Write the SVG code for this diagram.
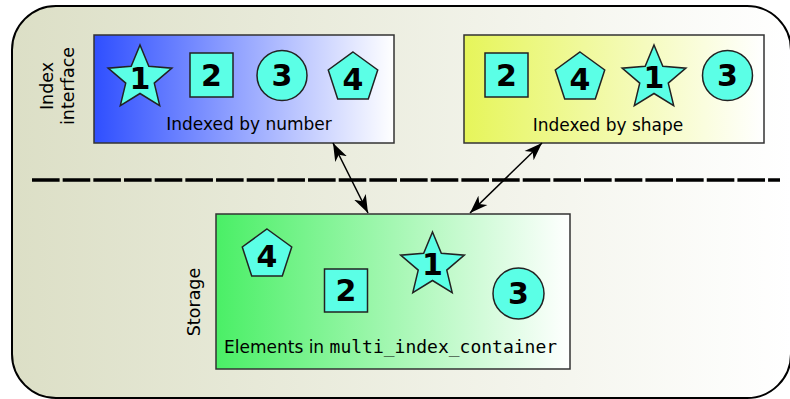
<svg xmlns="http://www.w3.org/2000/svg" width="790" height="399" viewBox="0 0 790 399">
  <defs>
    <linearGradient id="gBg" x1="0" y1="0" x2="1" y2="0">
      <stop offset="0" stop-color="#dcdfc6"/>
      <stop offset="1" stop-color="#ffffff"/>
    </linearGradient>
    <linearGradient id="gBlue" x1="0" y1="0" x2="1" y2="0">
      <stop offset="0" stop-color="#2f4fff"/>
      <stop offset="1" stop-color="#ffffff"/>
    </linearGradient>
    <linearGradient id="gYellow" x1="0" y1="0" x2="1" y2="0">
      <stop offset="0" stop-color="#e6f55a"/>
      <stop offset="1" stop-color="#ffffff"/>
    </linearGradient>
    <linearGradient id="gGreen" x1="0" y1="0" x2="1" y2="0">
      <stop offset="0" stop-color="#4aef66"/>
      <stop offset="1" stop-color="#ffffff"/>
    </linearGradient>
    <path id="star" d="M0,-33.5 L8.82,-12.14 L31.86,-10.35 L14.27,4.64 L19.69,27.1 L0,15 L-19.69,27.1 L-14.27,4.64 L-31.86,-10.35 L-8.82,-12.14 Z"/>
    <path id="pent" d="M0,-26 L24.73,-8.03 L15.28,21.03 L-15.28,21.03 L-24.73,-8.03 Z"/>
    <marker id="head" markerUnits="userSpaceOnUse" markerWidth="20" markerHeight="16" refX="18" refY="8" orient="auto-start-reverse" viewBox="0 0 20 16">
      <path d="M18,8 L0,1.5 L5,8 L0,14.5 Z" fill="#000"/>
    </marker>
  </defs>
  <style>
    .panel { stroke: #333; stroke-width: 1.5; }
    .shape { fill: #5bffe6; stroke: #222; stroke-width: 1.5; }
    .num { font-family: "DejaVu Sans", sans-serif; font-weight: bold; font-size: 30px; text-anchor: middle; fill: #000; }
    .lbl { font-family: "DejaVu Sans", sans-serif; font-size: 17px; fill: #000; }
    .mono { font-family: "DejaVu Sans Mono", monospace; font-size: 18px; }
    .side { font-family: "DejaVu Sans", sans-serif; font-size: 17.5px; text-anchor: middle; fill: #000; }
    .link { stroke: #000; stroke-width: 1.5; fill: none; marker-start: url(#head); marker-end: url(#head); }
  </style>

  <!-- outer frame -->
  <rect x="12" y="6" width="779" height="392" rx="44" ry="44" fill="url(#gBg)" stroke="#000" stroke-width="2"/>

  <!-- separator between interface and storage -->
  <line x1="32" y1="180" x2="780" y2="180" stroke="#000" stroke-width="3.5" stroke-dasharray="27.6 3.07"/>

  <!-- side captions -->
  <text class="side" transform="translate(53,86) rotate(-90)">Index</text>
  <text class="side" transform="translate(74,86) rotate(-90)">interface</text>
  <text class="side" transform="translate(200,302) rotate(-90)">Storage</text>

  <!-- index by number -->
  <g id="index-number">
    <rect class="panel" x="94" y="35" width="300" height="108" fill="url(#gBlue)"/>
    <use class="shape" href="#star" x="140" y="78.5"/>
    <text class="num" x="140" y="89">1</text>
    <rect class="shape" x="190" y="53" width="43" height="44"/>
    <text class="num" x="211.5" y="86">2</text>
    <circle class="shape" cx="282" cy="75.5" r="25"/>
    <text class="num" x="282" y="86">3</text>
    <use class="shape" href="#pent" x="353" y="78"/>
    <text class="num" x="353" y="90">4</text>
    <text class="lbl" x="249" y="130" text-anchor="middle">Indexed by number</text>
  </g>

  <!-- index by shape -->
  <g id="index-shape">
    <rect class="panel" x="464" y="35" width="300" height="108" fill="url(#gYellow)"/>
    <rect class="shape" x="485" y="53" width="43" height="44"/>
    <text class="num" x="506.5" y="86">2</text>
    <use class="shape" href="#pent" x="580" y="78"/>
    <text class="num" x="580" y="90">4</text>
    <use class="shape" href="#star" x="654" y="78.5"/>
    <text class="num" x="654" y="88">1</text>
    <circle class="shape" cx="727.5" cy="75.5" r="25"/>
    <text class="num" x="727.5" y="86">3</text>
    <text class="lbl" x="608" y="131" text-anchor="middle">Indexed by shape</text>
  </g>

  <!-- storage -->
  <g id="storage">
    <rect class="panel" x="216" y="214" width="354" height="155" fill="url(#gGreen)"/>
    <use class="shape" href="#pent" x="267" y="255"/>
    <text class="num" x="267" y="267">4</text>
    <rect class="shape" x="324.5" y="269" width="43" height="43"/>
    <text class="num" x="346" y="301">2</text>
    <use class="shape" href="#star" x="432.5" y="265.5"/>
    <text class="num" x="432.5" y="275">1</text>
    <circle class="shape" cx="518.5" cy="293.5" r="25.5"/>
    <text class="num" x="518.5" y="304">3</text>
    <text class="lbl" x="224" y="353">Elements in <tspan class="mono">multi_index_container</tspan></text>
  </g>

  <!-- links between indices and storage -->
  <g id="links">
    <line class="link" x1="333" y1="143" x2="368" y2="213"/>
    <line class="link" x1="542" y1="143" x2="470" y2="213"/>
  </g>
</svg>
